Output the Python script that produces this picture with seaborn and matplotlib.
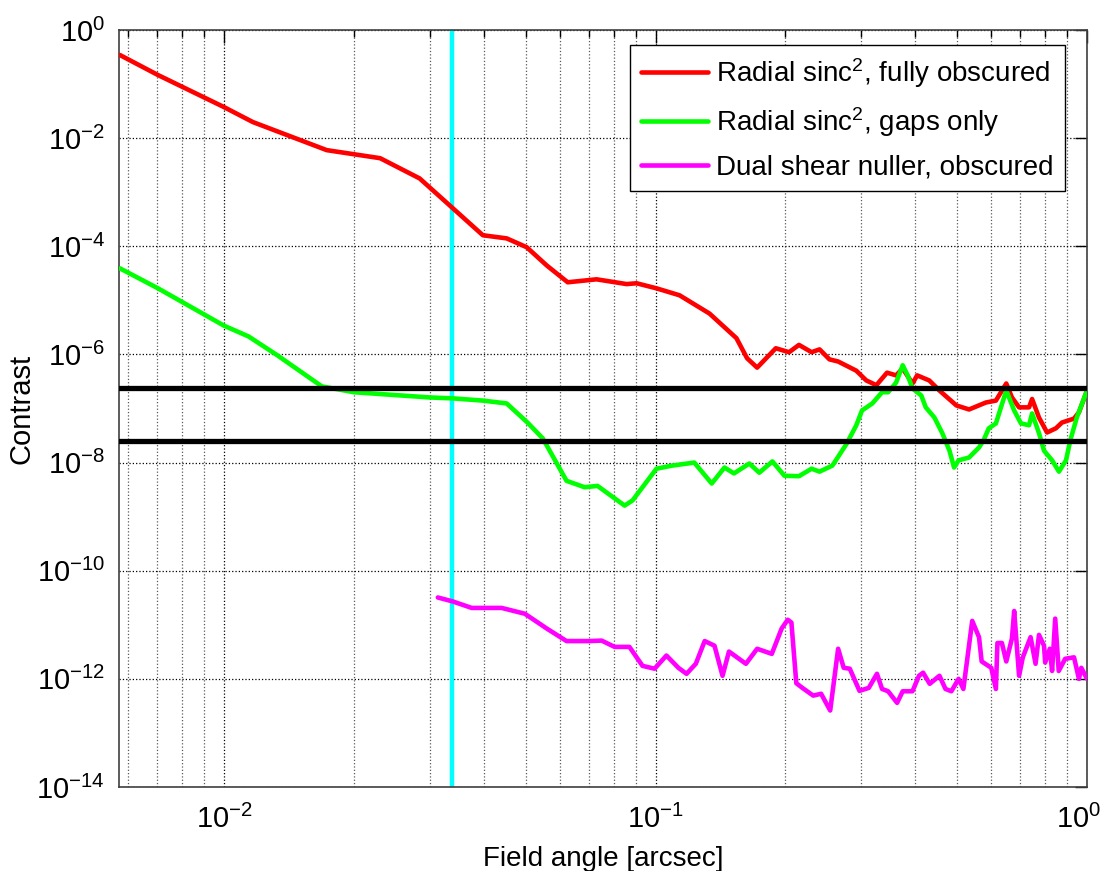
import numpy as np
import pandas as pd
import matplotlib
matplotlib.use("Agg")
import matplotlib.pyplot as plt
import matplotlib.ticker as mticker
import matplotlib.transforms as mtransforms
import seaborn as sns

# field angle [arcsec] and contrast
red_x = [0.00574, 0.00703, 0.01, 0.01167, 0.0173, 0.023, 0.0284, 0.0339, 0.0398, 0.0452,
         0.0503, 0.056, 0.0626, 0.073, 0.0857, 0.0904, 0.1005, 0.1137, 0.1334, 0.154,
         0.163, 0.172, 0.19, 0.204, 0.215, 0.23, 0.24, 0.253, 0.265, 0.292,
         0.308, 0.325, 0.344, 0.361, 0.374, 0.394, 0.404, 0.431, 0.455, 0.498,
         0.533, 0.583, 0.615, 0.65, 0.67, 0.696, 0.734, 0.746, 0.774, 0.808,
         0.847, 0.875, 0.933, 0.958, 1.0]
red_y = [0.344, 0.147, 0.0375, 0.0198, 0.006, 0.00426, 0.0018, 5.06e-4, 1.6e-4, 1.4e-4,
         9.6e-5, 4.4e-5, 2.16e-5, 2.45e-5, 2.0e-5, 2.07e-5, 1.67e-5, 1.24e-5, 5.7e-6, 2.0e-6,
         8.5e-7, 5.7e-7, 1.3e-6, 1.1e-6, 1.5e-6, 1.1e-6, 1.24e-6, 8.1e-7, 7.4e-7, 5.0e-7,
         3.3e-7, 2.7e-7, 4.6e-7, 4.1e-7, 5.5e-7, 2.9e-7, 4.1e-7, 3.3e-7, 2.15e-7, 1.14e-7,
         9.6e-8, 1.29e-7, 1.4e-7, 2.9e-7, 1.6e-7, 1.05e-7, 1.05e-7, 1.5e-7, 6.8e-8, 3.6e-8,
         4.3e-8, 5.5e-8, 6.5e-8, 8.5e-8, 2.15e-7]

green_x = [0.00574, 0.00703, 0.01, 0.0114, 0.0133, 0.01686, 0.02, 0.03, 0.0339, 0.0398,
           0.0452, 0.0505, 0.0548, 0.0622, 0.0685, 0.0734, 0.0848, 0.0885, 0.1005, 0.1094,
           0.123, 0.135, 0.1445, 0.152, 0.165, 0.174, 0.1866, 0.199, 0.215, 0.23,
           0.24, 0.257, 0.277, 0.292, 0.301, 0.318, 0.335, 0.346, 0.361, 0.374,
           0.384, 0.394, 0.413, 0.423, 0.443, 0.462, 0.48, 0.492, 0.504, 0.533,
           0.562, 0.576, 0.592, 0.615, 0.65, 0.678, 0.703, 0.734, 0.746, 0.774,
           0.795, 0.83, 0.861, 0.894, 0.915, 0.947, 1.0]
green_y = [3.9e-5, 1.67e-5, 3.4e-6, 2.15e-6, 9.6e-7, 2.56e-7, 2.0e-7, 1.6e-7, 1.54e-7, 1.4e-7,
           1.24e-7, 5.5e-8, 2.8e-8, 4.6e-9, 3.5e-9, 3.7e-9, 1.6e-9, 2e-9, 7.7e-9, 8.8e-9,
           1e-8, 4.1e-9, 8.1e-9, 6.3e-9, 9.6e-9, 6.5e-9, 1.05e-8, 5.7e-9, 5.6e-9, 7.7e-9,
           6.8e-9, 8.8e-9, 2.2e-8, 4.9e-8, 9.2e-8, 1.24e-7, 2.0e-7, 2.0e-7, 3.0e-7, 6.3e-7,
           4.1e-7, 2.35e-7, 1.74e-7, 1.05e-7, 6.8e-8, 3.5e-8, 1.66e-8, 8.1e-9, 1.1e-8, 1.24e-8,
           1.9e-8, 2.6e-8, 4.3e-8, 5.3e-8, 2.15e-7, 9.2e-8, 5.3e-8, 4.9e-8, 8.1e-8, 3.5e-8,
           1.66e-8, 1.1e-8, 6.8e-9, 1.1e-8, 2.6e-8, 6.8e-8, 2.15e-7]

magenta_x = [0.0313, 0.0339, 0.0375, 0.044, 0.0498, 0.056, 0.0622, 0.0703, 0.075, 0.0804,
             0.087, 0.0933, 0.0995, 0.106, 0.113, 0.118, 0.124, 0.13, 0.137, 0.143,
             0.148, 0.162, 0.172, 0.186, 0.196, 0.2025, 0.2065, 0.212, 0.219, 0.232,
             0.242, 0.254, 0.265, 0.273, 0.282, 0.297, 0.312, 0.326, 0.335, 0.346,
             0.363, 0.374, 0.394, 0.408, 0.417, 0.432, 0.455, 0.47, 0.485, 0.504,
             0.517, 0.542, 0.562, 0.57, 0.6, 0.615, 0.62, 0.635, 0.65, 0.67,
             0.678, 0.696, 0.71, 0.74, 0.76, 0.774, 0.795, 0.8, 0.82, 0.83,
             0.844, 0.86, 0.89, 0.933, 0.958, 0.97, 1.0]
magenta_y = [3.2e-11, 2.7e-11, 2.05e-11, 2.05e-11, 1.6e-11, 8.5e-12, 5.0e-12, 5.0e-12, 5.1e-12, 3.9e-12,
             3.9e-12, 1.74e-12, 1.54e-12, 2.7e-12, 1.6e-12, 1.24e-12, 1.9e-12, 5.0e-12, 4.1e-12, 1.14e-12,
             3.2e-12, 1.9e-12, 3.6e-12, 2.9e-12, 8.5e-12, 1.24e-11, 1.1e-11, 8.3e-13, 6.8e-13, 4.9e-13,
             5.3e-13, 2.6e-13, 3.6e-12, 1.6e-12, 1.54e-12, 6.0e-13, 6.8e-13, 1.24e-12, 6.5e-13, 5.9e-13,
             3.6e-13, 5.9e-13, 5.9e-13, 1.14e-12, 1.3e-12, 8.1e-13, 1.14e-12, 6.5e-13, 5.9e-13, 1.0e-12,
             6.5e-13, 1.18e-11, 5.9e-12, 2.1e-12, 1.6e-12, 6.5e-13, 4.6e-12, 4.6e-12, 2.1e-12, 5.6e-12,
             1.8e-11, 1.14e-12, 2.5e-12, 5.9e-12, 1.9e-12, 6.5e-12, 4.1e-12, 2.0e-12, 3.6e-12, 1.4e-12,
             1.3e-11, 1.4e-12, 2.35e-12, 2.5e-12, 1.0e-12, 1.6e-12, 1.0e-12]

labels = ['Radial sinc$^2$, fully obscured', 'Radial sinc$^2$, gaps only',
          'Dual shear nuller, obscured']
colors = ['#ff0000', '#00ff00', '#ff00ff']

cyan_x = 0.0337
black_levels = [2.4e-7, 2.5e-8]
x_ticks = [1e-2, 1e-1, 1e0]
y_ticks = [1e0, 1e-2, 1e-4, 1e-6, 1e-8, 1e-10, 1e-12, 1e-14]

sns.set_style("white")
plt.rcParams['font.family'] = ['Liberation Sans', 'DejaVu Sans']
plt.rcParams['mathtext.fontset'] = 'custom'
plt.rcParams['mathtext.rm'] = 'Liberation Sans'
plt.rcParams['mathtext.it'] = 'Liberation Sans:italic'
plt.rcParams['mathtext.bf'] = 'Liberation Sans:bold'
for key in ['text.color', 'axes.labelcolor', 'xtick.color', 'ytick.color']:
    plt.rcParams[key] = 'k'

fig = plt.figure(figsize=(11.05, 8.71), dpi=100)
ax = fig.add_axes([119 / 1105, 1 - 787 / 871, (1087 - 119) / 1105, (787 - 30) / 871])
ax.set_xscale('log')
ax.set_yscale('log')

series = [(red_x, red_y), (green_x, green_y), (magenta_x, magenta_y)]
for (xs, ys), lab, col in zip(series, labels, colors):
    df = pd.DataFrame({'angle': xs, 'contrast': ys})
    sns.lineplot(data=df, x='angle', y='contrast', color=col, lw=3.3, label=lab,
                 estimator=None, sort=False, ax=ax, zorder=3)

ax.axvline(cyan_x, color='#00ffff', lw=3.2, zorder=2)
for lev in black_levels:
    ax.axhline(lev, color='k', lw=3.8, zorder=4)

ax.set_xlim(0.00571, 1.0)
ax.set_ylim(1e-14, 1.0)

ax.yaxis.set_major_locator(mticker.FixedLocator(y_ticks))
ax.yaxis.set_minor_locator(mticker.NullLocator())
ax.yaxis.set_major_formatter(mticker.LogFormatterSciNotation())
ax.xaxis.set_major_locator(mticker.FixedLocator(x_ticks))
ax.xaxis.set_major_formatter(mticker.LogFormatterSciNotation())
ax.xaxis.set_minor_locator(mticker.LogLocator(base=10, subs=np.arange(2, 10)))
ax.xaxis.set_minor_formatter(mticker.NullFormatter())

ax.grid(which='major', axis='both', ls=':', color='k', lw=0.9)
ax.grid(which='minor', axis='x', ls=':', color='0.35', lw=0.9)

ax.tick_params(which='both', direction='in', top=True, right=True, labelsize=21, width=1)
ax.tick_params(which='major', length=9)
ax.tick_params(axis='x', which='major', pad=13)
ax.tick_params(axis='y', which='major', pad=10)
ax.tick_params(which='minor', length=5)
for sp in ax.spines.values():
    sp.set_color('0.25')
    sp.set_linewidth(1.2)

ax.set_xlabel('Field angle [arcsec]', fontsize=20)
ax.set_ylabel('Contrast', fontsize=21)
ax.xaxis.set_label_coords(0.5, -0.078)
ax.yaxis.set_label_coords(-0.086, 0.5)

leg = ax.legend(loc='upper right', bbox_to_anchor=(1065 / 1105, 1 - 45 / 871),
                bbox_transform=fig.transFigure, borderaxespad=0, fontsize=20,
                handlelength=2.4, handletextpad=0.3, borderpad=0.4,
                labelspacing=0.55, fancybox=False, framealpha=1, edgecolor='k')
leg.get_frame().set_linewidth(1.0)

# the last x tick label sits on the figure edge; nudge it in a little
fig.canvas.draw()
last = ax.xaxis.get_major_ticks()[-1].label1
last.set_transform(last.get_transform() + mtransforms.ScaledTranslation(-6 / 72, 0, fig.dpi_scale_trans))

fig.savefig('out.png', dpi=100)
